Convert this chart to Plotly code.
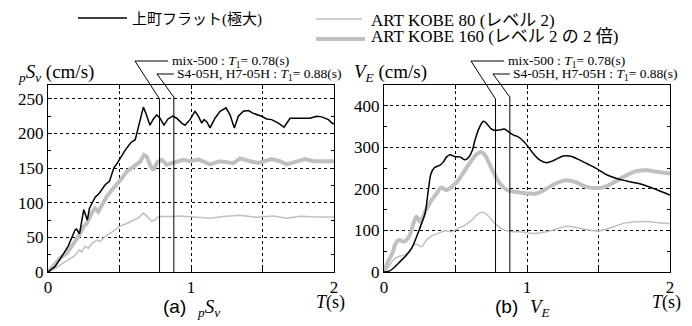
import plotly.graph_objects as go

# ---------------- data ----------------
# (a) pSv
T_a_black = [0, 0.05, 0.11, 0.14, 0.19, 0.2, 0.22, 0.25, 0.275, 0.29, 0.33, 0.36, 0.40, 0.43, 0.46, 0.49,
             0.54, 0.58, 0.61, 0.64, 0.667, 0.685, 0.713, 0.737, 0.76, 0.783, 0.811, 0.839, 0.872, 0.9,
             0.935, 0.958, 0.993, 1.028, 1.051, 1.075, 1.091, 1.11, 1.133, 1.168, 1.203, 1.245, 1.273,
             1.303, 1.331, 1.366, 1.401, 1.436, 1.494, 1.529, 1.564, 1.611, 1.651, 1.693, 1.739, 1.786,
             1.832, 1.879, 1.914, 1.961, 1.991, 2.0]
V_a_black = [0, 8, 27, 37, 61, 62, 55, 90, 75, 92, 108, 114, 126, 131, 150, 159,
             176, 187, 191, 215, 238, 229, 212, 221, 227, 222, 212, 221, 225, 222,
             215, 212, 220, 232, 225, 215, 220, 217, 208, 222, 232, 237, 227,
             208, 225, 232, 233, 229, 225, 221, 220, 215, 209, 222, 222, 221,
             222, 225, 224, 220, 214, 215]

T_a_k160 = [0, 0.037, 0.084, 0.131, 0.177, 0.212, 0.247, 0.27, 0.305, 0.329, 0.352, 0.375, 0.41, 0.445,
            0.48, 0.515, 0.55, 0.585, 0.62, 0.643, 0.671, 0.69, 0.713, 0.737, 0.765, 0.795, 0.83, 0.865,
            0.9, 0.946, 0.993, 1.051, 1.133, 1.203, 1.296, 1.343, 1.413, 1.471, 1.564, 1.622, 1.669,
            1.739, 1.797, 1.856, 1.926, 2.0]
V_a_k160 = [0, 8, 20, 27, 41, 51, 65, 70, 85, 92, 87, 97, 109, 118,
            126, 135, 145, 150, 155, 159, 169, 167, 155, 147, 159, 162, 155, 157,
            159, 162, 160, 162.5, 155.5, 160, 157, 164, 160, 157.5, 163, 160, 155.5,
            160, 163, 160, 160, 160]

T_a_k80 = [0, 0.049, 0.084, 0.119, 0.154, 0.177, 0.2, 0.219, 0.235, 0.259, 0.282, 0.305, 0.34, 0.364,
           0.4, 0.434, 0.469, 0.503, 0.55, 0.597, 0.632, 0.667, 0.69, 0.725, 0.748, 0.772, 0.807,
           0.842, 0.877, 0.923, 1.016, 1.133, 1.226, 1.343, 1.459, 1.576, 1.669, 1.762, 1.879, 2.0]
V_a_k80 = [0, 5, 10, 15, 20, 22, 27, 32, 29, 37, 34, 41, 46, 44,
           51, 56, 61, 66, 70, 75, 78, 85, 81, 73, 75, 80, 80,
           79, 80, 81, 79.5, 77.5, 80, 82, 79, 81, 77.5, 80.5, 79.5, 79.5]

# (b) VE
T_b_black = [0, 0.035, 0.065, 0.112, 0.158, 0.193, 0.228, 0.263, 0.287, 0.31, 0.329, 0.352, 0.392, 0.415,
             0.438, 0.462, 0.492, 0.531, 0.566, 0.594, 0.618, 0.636, 0.664, 0.695, 0.718, 0.748, 0.772,
             0.811, 0.841, 0.869, 0.904, 0.939, 0.98, 1.0, 1.044, 1.091, 1.137, 1.196, 1.254, 1.312,
             1.359, 1.417, 1.487, 1.557, 1.627, 1.697, 1.767, 1.837, 1.907, 1.965, 2.0]
V_b_black = [0, 2, 9, 25, 41, 57, 85, 117, 141, 197, 237, 251, 257, 265,
             277, 282, 278, 277, 270, 277, 293, 317, 345, 363, 357, 345, 341,
             342, 344, 338, 330, 325, 313, 305, 285, 269, 263, 270, 279, 278,
             271, 261, 249, 234, 225, 219, 214, 207, 198, 190, 185]

T_b_k160 = [0, 0.023, 0.058, 0.082, 0.105, 0.14, 0.175, 0.21, 0.228, 0.252, 0.287, 0.333, 0.368, 0.399,
            0.438, 0.473, 0.52, 0.566, 0.613, 0.648, 0.678, 0.706, 0.741, 0.776, 0.811, 0.858, 0.916,
            0.98, 1.009, 1.068, 1.137, 1.207, 1.277, 1.336, 1.406, 1.476, 1.545, 1.615, 1.685, 1.767,
            1.837, 1.907, 2.0]
V_b_k160 = [0, 21, 45, 69, 77, 73, 85, 121, 133, 121, 145, 173, 189, 203,
            197, 205, 221, 245, 269, 283, 289, 281, 257, 233, 213, 198, 193,
            190, 189, 189, 201, 214, 221, 217, 206, 202, 205, 217, 231, 243,
            245, 241, 237]

T_b_k80 = [0, 0.035, 0.065, 0.105, 0.147, 0.182, 0.217, 0.24, 0.263, 0.298, 0.333, 0.38, 0.427, 0.473,
           0.52, 0.566, 0.613, 0.648, 0.683, 0.718, 0.752, 0.788, 0.834, 0.893, 0.951, 1.021, 1.091,
           1.184, 1.277, 1.347, 1.417, 1.499, 1.581, 1.674, 1.767, 1.86, 1.93, 2.0]
V_b_k80 = [0, 13, 29, 38, 41, 53, 67, 65, 61, 77, 87, 93, 99, 97,
           105, 113, 125, 137, 144, 139, 125, 113, 102, 97, 97, 93, 94,
           101, 110, 107, 102, 99, 106, 117, 121, 121, 118, 117]

# natural periods
T1_vals = [0.78, 0.88]
T1_labels = ["mix-500 : <i>T</i><sub>1</sub>= 0.78(s)",
             "S4-05H, H7-05H : <i>T</i><sub>1</sub>= 0.88(s)"]

legend_names = ["上町フラット(極大)", "ART KOBE 80 (レベル 2)", "ART KOBE 160 (レベル 2 の 2 倍)"]
x_tickvals = [0, 0.5, 1, 1.5, 2]
x_ticktext = ["0", "", "1", "", "2"]

# ---------------- style ----------------
SERIF = "Liberation Serif, Noto Sans CJK JP, serif"
SANS = "Liberation Sans, Arial, sans-serif"
W, H = 692, 326
GRAY = "rgb(192,192,192)"


def px(x):
    return x / W


def py(y):
    return 1 - y / H


fig = go.Figure()

panels = [
    ("x", "y", T_a_black, V_a_black, T_a_k80, V_a_k80, T_a_k160, V_a_k160, "linear"),
    ("x2", "y2", T_b_black, V_b_black, T_b_k80, V_b_k80, T_b_k160, V_b_k160, "spline"),
]
for xa, ya, tb, vb, t80, v80, t160, v160, shp in panels:
    fig.add_trace(go.Scatter(x=t160, y=v160, mode="lines", xaxis=xa, yaxis=ya,
                             line=dict(color=GRAY, width=4, shape=shp), name=legend_names[2]))
    fig.add_trace(go.Scatter(x=t80, y=v80, mode="lines", xaxis=xa, yaxis=ya,
                             line=dict(color=GRAY, width=1.5, shape=shp), name=legend_names[1]))
    fig.add_trace(go.Scatter(x=tb, y=vb, mode="lines", xaxis=xa, yaxis=ya,
                             line=dict(color="black", width=1.5, shape=shp), name=legend_names[0]))

ybot, ytop = py(272), py(85)
axis_common = dict(showline=True, linecolor="black", linewidth=1, mirror="ticks",
                   ticks="inside", tickcolor="black", ticklen=4, automargin=False,
                   showgrid=True, gridcolor="black", griddash="dot", gridwidth=1,
                   zeroline=False, tickfont=dict(family=SERIF, size=17, color="black"))
fig.update_layout(
    width=W, height=H, margin=dict(l=0, r=0, t=0, b=0, autoexpand=False),
    paper_bgcolor="white", plot_bgcolor="white", showlegend=False,
    xaxis=dict(domain=[px(48), px(334)], range=[0, 2], tickvals=x_tickvals, ticktext=x_ticktext,
               anchor="y", **axis_common),
    yaxis=dict(domain=[ybot, ytop], range=[0, 270], tick0=0, dtick=50, anchor="x",
               minor=dict(dtick=25, ticks="inside", ticklen=3, tickcolor="black", showgrid=False),
               **axis_common),
    xaxis2=dict(domain=[px(384), px(670)], range=[0, 2], tickvals=x_tickvals, ticktext=x_ticktext,
                anchor="y2", **axis_common),
    yaxis2=dict(domain=[ybot, ytop], range=[0, 450], tick0=0, dtick=100, anchor="x2",
                minor=dict(dtick=50, ticks="inside", ticklen=3, tickcolor="black", showgrid=False),
                **axis_common),
)

shapes = []
annotations = []
# vertical T1 lines with leader lines
# leader geometry: (start x in T units, y paper of label line, y paper of junction, end x)
leaders = [(0.608, py(61), py(99), 0.839), (0.762, py(74), py(97), 0.88)]
text_x = [0.85, 0.888]
for xa in ["x", "x2"]:
    for i, t1 in enumerate(T1_vals):
        xs, ylab, yj, xend = leaders[i]
        ln = dict(color="black", width=1)
        shapes.append(dict(type="line", xref=xa, yref="paper", x0=t1, x1=t1, y0=ybot, y1=yj, line=ln))
        shapes.append(dict(type="line", xref=xa, yref="paper", x0=xs, x1=t1, y0=ylab, y1=yj, line=ln))
        shapes.append(dict(type="line", xref=xa, yref="paper", x0=xs, x1=xend, y0=ylab, y1=ylab, line=ln))
        annotations.append(dict(xref=xa, yref="paper", x=text_x[i], y=ylab, text=T1_labels[i],
                                showarrow=False, xanchor="left", yanchor="middle",
                                font=dict(family=SERIF, size=13.5, color="black")))

# legend (drawn manually)
shapes.append(dict(type="line", xref="paper", yref="paper", x0=px(78), x1=px(127), y0=py(18), y1=py(18),
                   line=dict(color="black", width=1.5)))
shapes.append(dict(type="line", xref="paper", yref="paper", x0=px(316), x1=px(362), y0=py(19), y1=py(19),
                   line=dict(color=GRAY, width=1.5)))
shapes.append(dict(type="line", xref="paper", yref="paper", x0=px(316), x1=px(365), y0=py(39), y1=py(39),
                   line=dict(color=GRAY, width=4)))
annotations.append(dict(xref="paper", yref="paper", x=px(130), y=py(19), text=legend_names[0],
                        showarrow=False, xanchor="left", yanchor="middle",
                        font=dict(family=SERIF, size=15, color="black")))
annotations.append(dict(xref="paper", yref="paper", x=px(369), y=py(21), text=legend_names[1],
                        showarrow=False, xanchor="left", yanchor="middle",
                        font=dict(family=SERIF, size=17, color="black")))
annotations.append(dict(xref="paper", yref="paper", x=px(369), y=py(36), text=legend_names[2],
                        showarrow=False, xanchor="left", yanchor="middle",
                        font=dict(family=SERIF, size=17, color="black")))

# axis titles
annotations.append(dict(xref="paper", yref="paper", x=px(16), y=py(73),
                        text="<sub><i>p</i></sub><i>S</i><sub><i>v</i></sub> (cm/s)",
                        showarrow=False, xanchor="left", yanchor="middle",
                        font=dict(family=SERIF, size=19, color="black")))
annotations.append(dict(xref="paper", yref="paper", x=px(352), y=py(73),
                        text="<i>V</i><sub><i>E</i></sub> (cm/s)",
                        showarrow=False, xanchor="left", yanchor="middle",
                        font=dict(family=SERIF, size=19, color="black")))
for xc in [330, 666]:
    annotations.append(dict(xref="paper", yref="paper", x=px(xc), y=py(302),
                            text="<i>T</i>(s)", showarrow=False, xanchor="center", yanchor="middle",
                            font=dict(family=SERIF, size=18, color="black")))
# captions
annotations.append(dict(xref="paper", yref="paper", x=px(188), y=py(306), text="(a)",
                        showarrow=False, xanchor="right", yanchor="middle",
                        font=dict(family=SANS, size=19, color="black")))
annotations.append(dict(xref="paper", yref="paper", x=px(195), y=py(308),
                        text="<sub><i>p</i></sub><i>S</i><sub><i>v</i></sub>",
                        showarrow=False, xanchor="left", yanchor="middle",
                        font=dict(family=SERIF, size=19, color="black")))
annotations.append(dict(xref="paper", yref="paper", x=px(520), y=py(306), text="(b)",
                        showarrow=False, xanchor="right", yanchor="middle",
                        font=dict(family=SANS, size=19, color="black")))
annotations.append(dict(xref="paper", yref="paper", x=px(528), y=py(308),
                        text="<i>V</i><sub><i>E</i></sub>",
                        showarrow=False, xanchor="left", yanchor="middle",
                        font=dict(family=SERIF, size=19, color="black")))

fig.update_layout(shapes=shapes, annotations=annotations)
fig.write_html("out.html", config={"displayModeBar": False},
               post_script="document.body.style.margin='0';document.body.style.padding='0';"
                           "document.documentElement.style.overflow='hidden';")
